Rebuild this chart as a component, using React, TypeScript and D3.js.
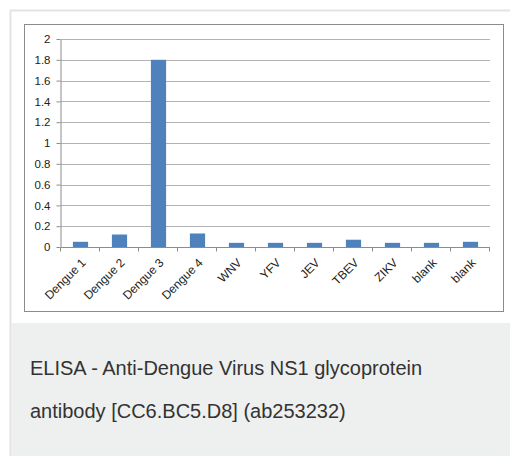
import * as d3 from 'd3';
import { useEffect, useRef } from 'react';

const categories = ['Dengue 1', 'Dengue 2', 'Dengue 3', 'Dengue 4', 'WNV', 'YFV', 'JEV', 'TBEV', 'ZIKV', 'blank', 'blank '];
const values = [0.05, 0.12, 1.8, 0.13, 0.04, 0.04, 0.04, 0.07, 0.04, 0.04, 0.05];
const yTicks = [0, 0.2, 0.4, 0.6, 0.8, 1, 1.2, 1.4, 1.6, 1.8, 2];
const captionLines = ['ELISA - Anti-Dengue Virus NS1 glycoprotein', 'antibody [CC6.BC5.D8] (ab253232)'];

const App = () => {
  const svgRef = useRef<SVGSVGElement | null>(null);

  useEffect(() => {
    const width = 510;
    const height = 456;
    const plot = { left: 61, right: 490, top: 39, bottom: 247 };

    const svg = d3.select(svgRef.current)
      .attr('width', width)
      .attr('height', height);

    svg.selectAll('*').remove();

    // card background + border
    svg.append('rect')
      .attr('x', 10.5).attr('y', 10.5)
      .attr('width', 510).attr('height', 460)
      .attr('fill', '#fff')
      .attr('stroke', '#e2e3e3')
      .attr('stroke-width', 2);

    // caption area
    svg.append('rect')
      .attr('x', 11).attr('y', 323)
      .attr('width', 499).attr('height', 133)
      .attr('fill', '#eeefef');

    // chart frame
    svg.append('rect')
      .attr('x', 24.5).attr('y', 24.5)
      .attr('width', 479).attr('height', 287)
      .attr('fill', '#fff')
      .attr('stroke', '#8c8c8c')
      .attr('stroke-width', 1);

    const x = d3.scaleBand<string>()
      .domain(categories)
      .range([plot.left, plot.right])
      .paddingInner(0.61)
      .paddingOuter(0.305);

    const y = d3.scaleLinear()
      .domain([0, 2])
      .range([plot.bottom, plot.top]);

    // gridlines
    svg.append('g')
      .selectAll('line')
      .data(yTicks.filter((d) => d > 0))
      .join('line')
      .attr('x1', plot.left)
      .attr('x2', plot.right)
      .attr('y1', (d) => Math.round(y(d)) + 0.5)
      .attr('y2', (d) => Math.round(y(d)) + 0.5)
      .attr('stroke', '#b3b3b3')
      .attr('stroke-width', 1);

    // y axis
    const yAxis = svg.append('g')
      .attr('transform', `translate(${plot.left - 0.5},0)`)
      .call(d3.axisLeft(y).tickValues(yTicks).tickSize(4).tickSizeOuter(0).tickFormat((d) => `${d}`));
    yAxis.select('.domain').attr('stroke', '#8c8c8c');
    yAxis.selectAll('.tick line').attr('stroke', '#8c8c8c');
    yAxis.selectAll('text')
      .attr('x', -10)
      .attr('fill', '#222')
      .style('font-family', 'Liberation Sans, Arial, sans-serif')
      .style('font-size', '11.5px');

    // bars
    svg.append('g')
      .selectAll('rect')
      .data(values)
      .join('rect')
      .attr('x', (_, i) => x(categories[i])!)
      .attr('y', (d) => y(d))
      .attr('width', x.bandwidth())
      .attr('height', (d) => y(0) - y(d))
      .attr('fill', '#4f81bd');

    // x axis
    const step = x.step();
    const xAxis = svg.append('g')
      .attr('transform', `translate(0,${Math.round(y(0)) + 0.5})`);
    xAxis.append('line')
      .attr('x1', plot.left).attr('x2', plot.right)
      .attr('stroke', '#8c8c8c');
    xAxis.selectAll('line.tk')
      .data(d3.range(categories.length + 1))
      .join('line')
      .attr('class', 'tk')
      .attr('x1', (i) => Math.round(plot.left + i * step) - 0.5)
      .attr('x2', (i) => Math.round(plot.left + i * step) - 0.5)
      .attr('y1', 0).attr('y2', 4)
      .attr('stroke', '#8c8c8c');
    xAxis.selectAll('text')
      .data(categories)
      .join('text')
      .attr('transform', (d) => `translate(${x(d)! + x.bandwidth() / 2 + 3},13) rotate(-45)`)
      .attr('text-anchor', 'end')
      .attr('dy', '0.35em')
      .attr('fill', '#222')
      .style('font-family', 'Liberation Sans, Arial, sans-serif')
      .style('font-size', '12px')
      .text((d) => d.trim());

    // caption
    svg.append('g')
      .selectAll('text')
      .data(captionLines)
      .join('text')
      .attr('x', 30)
      .attr('y', (_, i) => 375 + i * 43)
      .attr('fill', '#333')
      .style('font-family', 'Liberation Sans, Arial, sans-serif')
      .style('font-size', '20px')
      .text((d) => d);
  }, []);

  return <svg ref={svgRef} style={{ position: 'absolute', left: 0, top: 0 }}></svg>;
};

export default App;
